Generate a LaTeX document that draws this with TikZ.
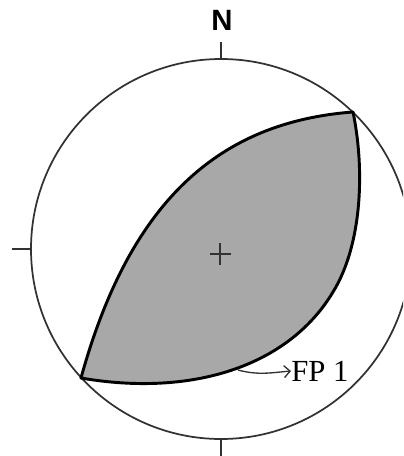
\documentclass[tikz,border=0pt]{standalone}
\usepackage{fontspec}
\setmainfont{Liberation Serif}
\setsansfont{Liberation Sans}
\usetikzlibrary{arrows.meta}
\definecolor{lensgray}{RGB}{168,168,168}
\definecolor{netgray}{RGB}{50,50,50}

\begin{document}
\begin{tikzpicture}[x=0.75pt, y=-0.75pt,
    net/.style={netgray, line width=1.3pt},
    plane/.style={black, line width=2.2pt, line join=round},
    tag/.style={inner sep=0pt}]
                \useasboundingbox (0,0) rectangle (403,456);
                \clip (0,0) rectangle (403,456);

                % Draw the net and its ticks
                \coordinate (o) at (221,249);
                \draw[net] (o) circle[radius=190];
                \draw[net] (o) ++(0,-190) -- ++(0,-17);
                \draw[net] (o) ++(0,190) -- ++(0,18);
                \draw[net] (o) ++(-190,0) -- ++(-19,0);

                % Shade the compressional quadrant between the two planes
                \coordinate (sw) at (81,378);
                \coordinate (ne) at (353,112);
                \coordinate (se) at (333,292);
                \filldraw[plane, fill=lensgray] (sw) .. controls (130,200) and (220,122) .. (ne)
                    .. controls (365,170) and (362,245) .. (se)
                    .. controls (288,367) and (191,397) .. (sw) -- cycle;

                % Centre mark
                \draw[net, line width=1.2pt] (o) ++(-11,5) -- ++(21,0);
                \draw[net, line width=1.2pt] (o) ++(-1,-6) -- ++(0,22);

                % Labels
                \node[tag, font=\sffamily\bfseries\fontsize{22}{22}\selectfont] (north) at (222,20) {N};
                \node[tag, anchor=west, font=\fontsize{23}{23}\selectfont] (fp) at (291,371) {FP 1};
                \coordinate (fpfoot) at (238,370);
                \draw[netgray, line width=1pt, -{Straight Barb[length=4.5pt]}] (fpfoot) to[out=-15, in=185] (fp.west);
            \end{tikzpicture}
\end{document}
